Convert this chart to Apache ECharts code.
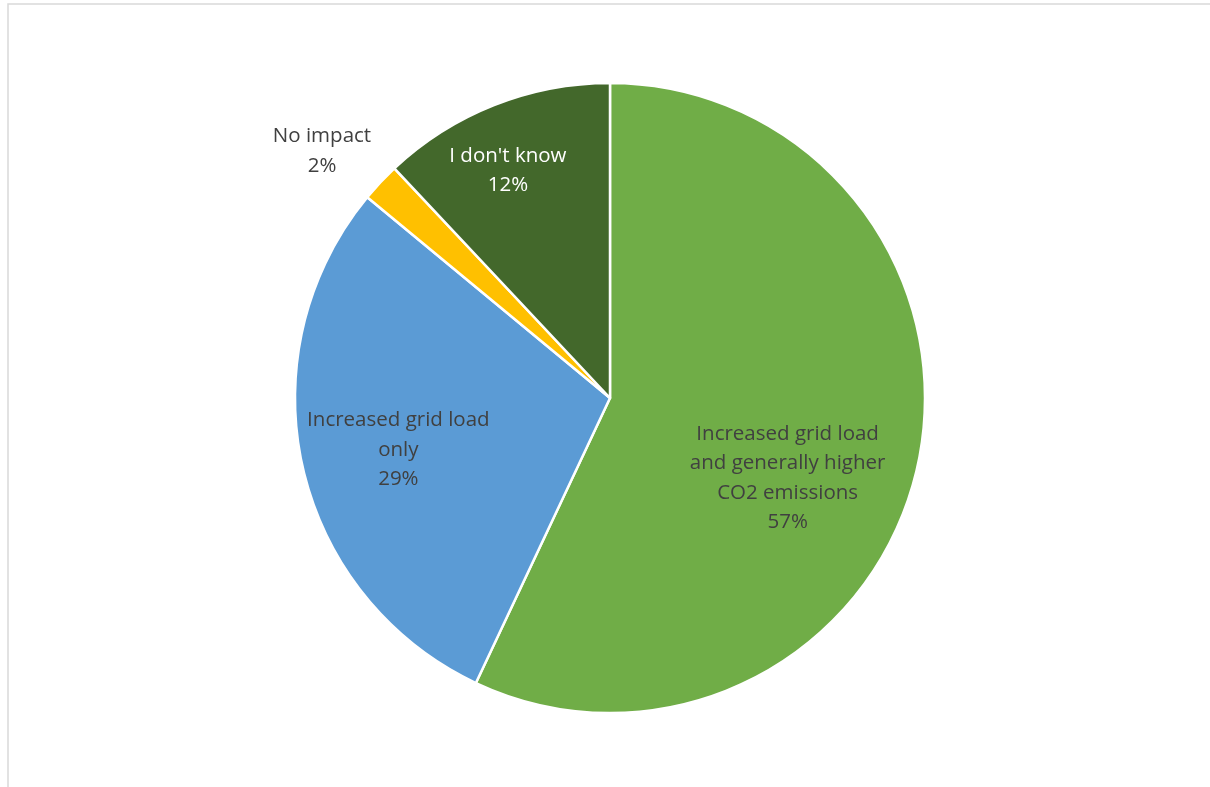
<!DOCTYPE html>
<html>
<head>
<meta charset="utf-8">
<style>
  html, body { margin: 0; padding: 0; background: #ffffff; }
  #chart { width: 1210px; height: 787px; }
</style>
<script src="https://cdn.jsdelivr.net/npm/echarts@6/dist/echarts.min.js"></script>
</head>
<body>
<div id="chart"></div>
<script>
// Survey answers, in drawing order (clockwise from 12 o'clock)
const categories = [
  'Increased grid load\nand generally higher\nCO2 emissions',
  'Increased grid load\nonly',
  'No impact',
  "I don't know"
];
const shares = [57, 29, 2, 12];

const sliceColors = ['#70AD47', '#5B9BD5', '#FFC000', '#43682B'];
const labelColors = ['#404040', '#404040', '#404040', '#ffffff'];
// shift of each label away from the default mid-radius spot
const labelShift = [[21, 45], [-55, 17], [-171, -137], [-43, -78]];

const chart = echarts.init(document.getElementById('chart'), null, { renderer: 'canvas' });

chart.setOption({
  backgroundColor: '#ffffff',
  animation: false,
  graphic: [{
    type: 'rect',
    shape: { x: 8, y: 4, width: 1240, height: 820 },
    style: { fill: 'none', stroke: '#d9d9d9', lineWidth: 1.5 },
    silent: true
  }],
  series: [{
    type: 'pie',
    center: [610, 398],
    radius: 315,
    startAngle: 90,
    clockwise: true,
    percentPrecision: 0,
    avoidLabelOverlap: false,
    itemStyle: { borderColor: '#ffffff', borderWidth: 2.5 },
    label: {
      show: true,
      position: 'inside',
      formatter: '{b}\n{d}%',
      fontFamily: '"Open Sans", sans-serif',
      fontSize: 20.5,
      lineHeight: 29.5,
      align: 'center'
    },
    labelLine: { show: false },
    labelLayout: function (params) {
      const s = labelShift[params.dataIndex];
      return { dx: s[0], dy: s[1] };
    },
    emphasis: { disabled: true },
    data: categories.map(function (name, i) {
      return {
        name: name,
        value: shares[i],
        itemStyle: { color: sliceColors[i] },
        label: { color: labelColors[i] }
      };
    })
  }]
});
</script>
</body>
</html>
